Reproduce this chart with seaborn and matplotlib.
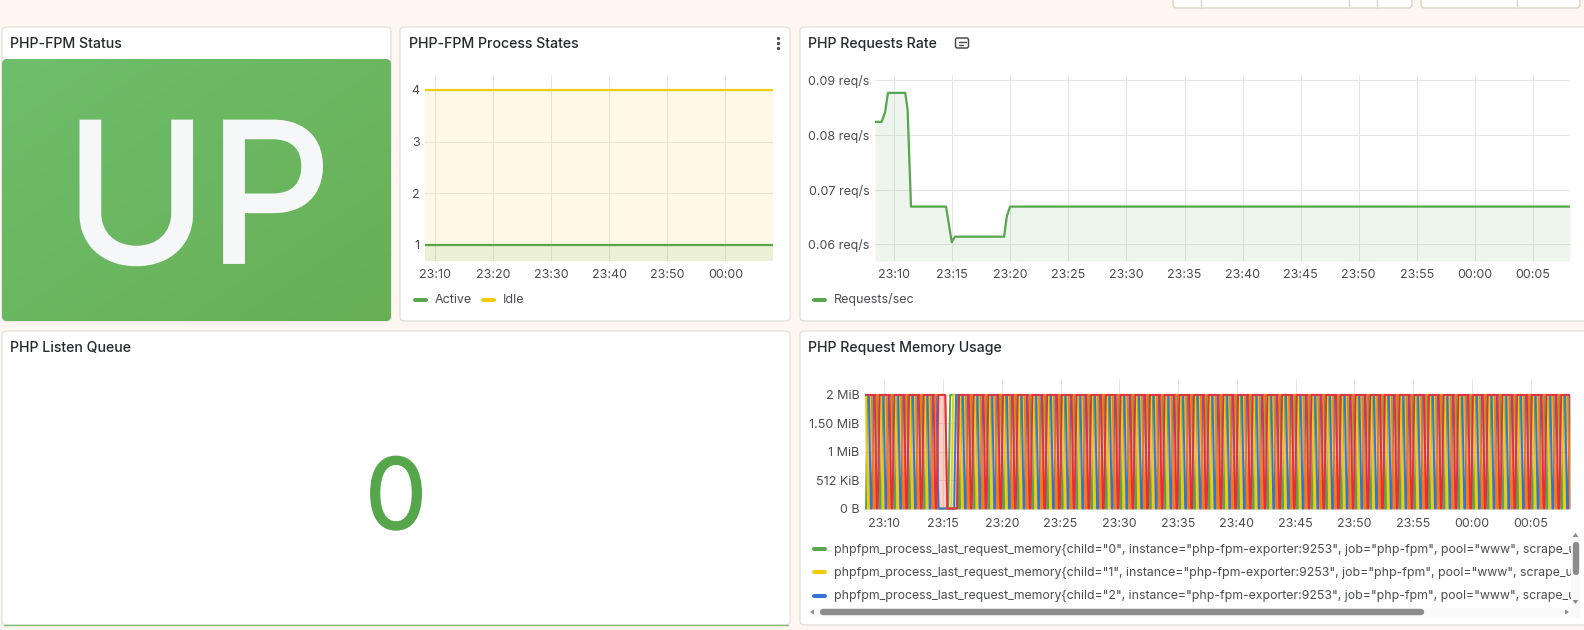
import matplotlib
matplotlib.use("Agg")
import numpy as np
import pandas as pd
import seaborn as sns
import matplotlib.pyplot as plt
import matplotlib.patheffects as pe
from matplotlib.patches import FancyBboxPatch, Rectangle, Polygon

# ---------- data ----------
state_minutes = [-1.78, 58.2]
active_values = [1, 1]
idle_values = [4, 4]
state_ticks = [0, 10, 20, 30, 40, 50]
state_labels = ["23:10", "23:20", "23:30", "23:40", "23:50", "00:00"]
state_yticks = [1, 2, 3, 4]

rate_minutes = [-1.66, -1.09, -0.80, -0.54, 0.95, 1.15, 1.44, 4.46, 4.95, 5.23, 9.46, 9.69, 9.97, 58.2]
rate_values = [0.0824, 0.0824, 0.0841, 0.0877, 0.0877, 0.0846, 0.0669, 0.0669, 0.0604, 0.0614, 0.0614, 0.0651, 0.0669, 0.0669]
rate_yticks = [0.06, 0.07, 0.08, 0.09]
rate_ylabels = ["0.06 req/s", "0.07 req/s", "0.08 req/s", "0.09 req/s"]

five_ticks = [0, 5, 10, 15, 20, 25, 30, 35, 40, 45, 50, 55]
five_labels = ["23:10", "23:15", "23:20", "23:25", "23:30", "23:35", "23:40", "23:45", "23:50", "23:55", "00:00", "00:05"]

mem_yticks = [0, 0.5, 1, 1.5, 2]
mem_ylabels = ["0 B", "512 KiB", "1 MiB", "1.50 MiB", "2 MiB"]

# last request memory in MiB, one digit per 15 s sample, 241 samples per child
child_0 = """02222 02222 02222 02222 02222 00002
22022 22022 22022 22022 22022 22022 22022 22022 22022 22022
22022 22022 22022 22022 22022 22022 22022 22022 22022 22022
22022 22022 22022 22022 22022 22022 22022 22022 22022 22022
22022 22022 22022 22022 22022 22022 22022 22022 22022 22022
22022 22022 2"""
child_1 = """20222 20222 20222 20222 20222 00000
22202 22202 22202 22202 22202 22202 22202 22202 22202 22202
22202 22202 22202 22202 22202 22202 22202 22202 22202 22202
22202 22202 22202 22202 22202 22202 22202 22202 22202 22202
22202 22202 22202 22202 22202 22202 22202 22202 22202 22202
22202 22202 2"""
child_2 = """22022 22022 22022 22022 22022 00000
02220 22220 22220 22220 22220 22220 22220 22220 22220 22220
22220 22220 22220 22220 22220 22220 22220 22220 22220 22220
22220 22220 22220 22220 22220 22220 22220 22220 22220 22220
22220 22220 22220 22220 22220 22220 22220 22220 22220 22220
22220 22220 2"""
child_3 = """22202 22202 22202 22202 22202 22200
00222 02222 02222 02222 02222 02222 02222 02222 02222 02222
02222 02222 02222 02222 02222 02222 02222 02222 02222 02222
02222 02222 02222 02222 02222 02222 02222 02222 02222 02222
02222 02222 02222 02222 02222 02222 02222 02222 02222 02222
02222 02222 0"""
child_4 = """22220 22220 22220 22220 22220 22200
00222 20222 20222 20222 20222 20222 20222 20222 20222 20222
20222 20222 20222 20222 20222 20222 20222 20222 20222 20222
20222 20222 20222 20222 20222 20222 20222 20222 20222 20222
20222 20222 20222 20222 20222 20222 20222 20222 20222 20222
20222 20222 2"""
children = [child_0, child_1, child_2, child_3, child_4]
legend_tail = '", instance="php-fpm-exporter:9253", job="php-fpm", pool="www", scrape_url="tcp://php-fpm:9000/status"}'

GREEN, YELLOW, BLUE, ORANGE, RED = "#56A64B", "#F2CC0C", "#3274D9", "#FF780A", "#E02F44"
palette = [GREEN, YELLOW, BLUE, ORANGE, RED]
BG = "#FEF6F0"
BORDER = "#E4E1DB"
GRID = "#E6E7E4"
TEXT = "#4B4C50"
TITLE = "#26292E"

sns.set_theme(style="white")
plt.rcParams["font.family"] = ["Inter", "DejaVu Sans"]

W, H = 1584, 630
fig = plt.figure(figsize=(W / 100, H / 100), dpi=100, facecolor=BG)

bg = fig.add_axes([0, 0, 1, 1], zorder=0)
bg.set_xlim(0, W)
bg.set_ylim(H, 0)
bg.axis("off")


def panel(x0, y0, x1, y1):
    bg.add_patch(FancyBboxPatch((x0 + 3, y0 + 3), x1 - x0 - 6, y1 - y0 - 6,
                                boxstyle="round,pad=3,rounding_size=4",
                                fc="white", ec=BORDER, lw=1, clip_on=True))


panel(2, 27, 391, 321)
panel(400, 27, 790, 321)
panel(800, 27, 1610, 321)
panel(2, 331, 790, 625)
panel(800, 331, 1610, 625)

# top controls
for (a, b), divs in [((1173, 1412), [1201, 1349, 1377]), ((1421, 1580), [1517])]:
    bg.add_patch(FancyBboxPatch((a + 3, -12), b - a - 6, 17, boxstyle="round,pad=3,rounding_size=4",
                                fc="white", ec="#D9D4C8", lw=1))
    for d in divs:
        bg.plot([d, d], [0, 8], color="#D9D4C8", lw=1)

# titles
for x, y, s in [(10, 44, "PHP-FPM Status"), (409, 44, "PHP-FPM Process States"),
                (808, 44, "PHP Requests Rate"), (10, 348, "PHP Listen Queue"),
                (808, 348, "PHP Request Memory Usage")]:
    bg.text(x, y, s, fontsize=10.2, color=TITLE, va="center", ha="left", fontweight="medium")

# status tile with gradient
box = FancyBboxPatch((6, 63), 381, 254, boxstyle="round,pad=4,rounding_size=5", fc="none", ec="none")
bg.add_patch(box)
gx, gy = np.meshgrid(np.linspace(0, 1, 128), np.linspace(0, 1, 128))
t = ((gx + gy) / 2)[..., None]
grad = (1 - t) * np.array([110, 190, 108]) / 255 + t * np.array([104, 175, 85]) / 255
im = bg.imshow(grad, extent=(2, 391, 321, 59), aspect="auto", zorder=1)
im.set_clip_path(box)
bg.set_xlim(0, W)
bg.set_ylim(H, 0)
bg.text(198, 262, "UP", fontsize=139, color="#F6F7F9", ha="center", va="baseline", zorder=2,
        path_effects=[pe.withStroke(linewidth=2.8, foreground="#F6F7F9", joinstyle="miter")])
bg.plot([4, 788], [624.5, 624.5], color="#7FBF78", lw=1, zorder=2)
bg.text(396, 529, "0", fontsize=71, color=GREEN, ha="center", va="baseline", zorder=2,
        path_effects=[pe.withStroke(linewidth=1, foreground=GREEN)])


def px_axes(l, t, r, b):
    ax = fig.add_axes([l / W, 1 - b / H, (r - l) / W, (b - t) / H], zorder=2)
    ax.patch.set_alpha(0)
    for s in ax.spines.values():
        s.set_visible(False)
    ax.grid(True, color=GRID, lw=0.75)
    ax.set_axisbelow(True)
    ax.tick_params(axis="both", length=0, labelsize=9, labelcolor=TEXT, pad=5)
    return ax


def finish(ax, xticks, xlabels, yticks, ylabels):
    ax.set_xticks(xticks, xlabels)
    ax.set_yticks(yticks, ylabels)
    ax.set_xlabel("")
    ax.set_ylabel("")
    ax.tick_params(axis="y", pad=4)
    ax.tick_params(axis="x", pad=6)


# process states
ax = px_axes(425, 75, 773, 261)
state_df = pd.DataFrame({"minute": state_minutes, "Active": active_values, "Idle": idle_values})
ax.set_xlim(-1.78, 58.2)
ax.set_ylim(0.69, 4.29)
ax.fill_between(state_minutes, 0.69, idle_values, color=YELLOW, alpha=0.10, lw=0)
ax.fill_between(state_minutes, 0.69, active_values, color=GREEN, alpha=0.10, lw=0)
sns.lineplot(data=state_df, x="minute", y="Active", color=GREEN, lw=1.6, ax=ax, legend=False)
sns.lineplot(data=state_df, x="minute", y="Idle", color=YELLOW, lw=1.6, ax=ax, legend=False)
finish(ax, state_ticks, state_labels, state_yticks, [str(v) for v in state_yticks])

# request rate
ax = px_axes(875, 75, 1570, 261)
rate_df = pd.DataFrame({"minute": rate_minutes, "rate": rate_values})
ax.set_xlim(-1.66, 58.2)
ax.set_ylim(0.05695, 0.09097)
ax.fill_between(rate_minutes, 0.05695, rate_values, color=GREEN, alpha=0.10, lw=0)
sns.lineplot(data=rate_df, x="minute", y="rate", color=GREEN, lw=1.6, ax=ax, legend=False)
finish(ax, five_ticks, five_labels, rate_yticks, rate_ylabels)

# memory: every scrape value is held for 5 s, then the line moves on to the next scrape
ax = px_axes(865, 379, 1570, 510)
rows = []
for k, c in enumerate(children):
    vals = np.array([float(ch) for ch in c if ch in "02"])
    mins = -1.64 + 0.25 * np.arange(len(vals))
    rows.append(pd.DataFrame({"minute": np.column_stack([mins, mins + 5 / 60]).ravel(),
                              "mib": np.repeat(vals, 2), "child": str(k)}))
ax.set_xlim(-1.64, 58.36)
ax.set_ylim(-0.026, 2.28)
for k, d in enumerate(rows):
    ax.fill_between(d["minute"], 0, d["mib"], color=palette[k], alpha=0.14, lw=0)
mem_df = pd.concat(rows, ignore_index=True)
sns.lineplot(data=mem_df, x="minute", y="mib", hue="child", palette=palette, lw=1.35, ax=ax, legend=False,
             estimator=None, sort=False)
finish(ax, five_ticks, five_labels, mem_yticks, mem_ylabels)


# legends
def legend_item(x, y, color, label, clip=None, size=9):
    bg.plot([x + 1.5, x + 12.5], [y, y], color=color, lw=2.9, solid_capstyle="round", zorder=3)
    tx = bg.text(x + 22, y, label, fontsize=size, color=TEXT, va="center", ha="left", zorder=3)
    if clip is not None:
        tx.set_clip_path(clip)
        tx.set_clip_on(True)


legend_item(413, 300, GREEN, "Active")
legend_item(481, 300, YELLOW, "Idle")
legend_item(812, 300, GREEN, "Requests/sec")
clip_rect = Rectangle((805, 535), 766, 75, transform=bg.transData, fc="none", ec="none")
bg.add_patch(clip_rect)
for k in range(3):
    legend_item(812, 549 + 23.3 * k, palette[k],
                f'phpfpm_process_last_request_memory{{child="{k}{legend_tail}', clip=clip_rect, size=8.85)

# scrollbars
bg.add_patch(Rectangle((1571, 532), 9, 76, fc="#FAFAFA", ec="none", zorder=3))
bg.add_patch(Rectangle((808, 608), 772, 9, fc="#FAFAFA", ec="none", zorder=3))
bg.plot([823, 1421], [612, 612], color="#8C8C8C", lw=4.6, solid_capstyle="round", zorder=4)
bg.plot([1575.5, 1575.5], [545, 572], color="#8C8C8C", lw=4.6, solid_capstyle="round", zorder=4)
for pts in [[(810, 612), (814, 609.5), (814, 614.5)], [(1569, 612), (1565, 609.5), (1565, 614.5)],
            [(1575.5, 533), (1572.5, 537), (1578.5, 537)], [(1575.5, 604), (1572.5, 600), (1578.5, 600)]]:
    bg.add_patch(Polygon(pts, fc="#8C8C8C", ec="none", zorder=4))

# kebab menu and note icon
for y in (38, 43, 48):
    bg.plot([778], [y], "o", ms=2.4, color="#4B4C50", mew=0, zorder=3)
bg.add_patch(FancyBboxPatch((957, 39.5), 10, 7, boxstyle="round,pad=1.5,rounding_size=2", fc="none", ec="#4B4C50", lw=1.1, zorder=3))
bg.plot([959, 966], [42, 42], color="#4B4C50", lw=1, zorder=3)
bg.plot([959, 963], [45, 45], color="#4B4C50", lw=1, zorder=3)

fig.savefig("out.png", dpi=100, facecolor=BG)
